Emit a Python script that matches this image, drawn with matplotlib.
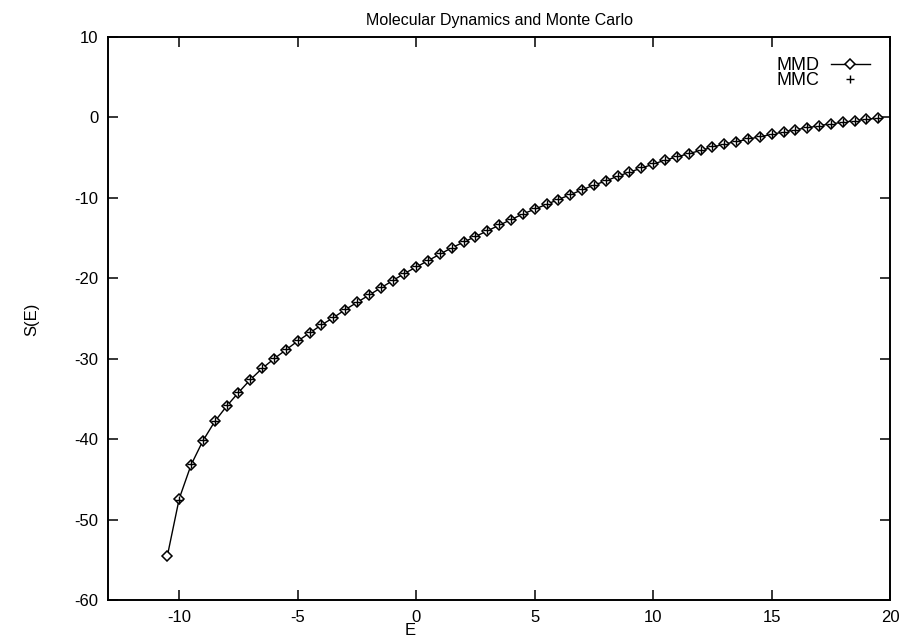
import numpy as np
import matplotlib
matplotlib.use("Agg")
import matplotlib.pyplot as plt

plt.rcParams['font.family'] = ['Liberation Sans', 'DejaVu Sans']
plt.rcParams['axes.unicode_minus'] = False

# energie E (pas de 0.5)
E_vals = [-10.5, -10.0, -9.5, -9.0, -8.5, -8.0, -7.5, -7.0, -6.5, -6.0,
          -5.5, -5.0, -4.5, -4.0, -3.5, -3.0, -2.5, -2.0, -1.5, -1.0,
          -0.5, 0.0, 0.5, 1.0, 1.5, 2.0, 2.5, 3.0, 3.5, 4.0,
          4.5, 5.0, 5.5, 6.0, 6.5, 7.0, 7.5, 8.0, 8.5, 9.0,
          9.5, 10.0, 10.5, 11.0, 11.5, 12.0, 12.5, 13.0, 13.5, 14.0,
          14.5, 15.0, 15.5, 16.0, 16.5, 17.0, 17.5, 18.0, 18.5, 19.0,
          19.5]

# S(E) molecular dynamics
S_mmd = [-54.5, -47.4, -43.2, -40.2, -37.8, -35.9, -34.2, -32.6, -31.2, -30.0,
         -28.9, -27.8, -26.8, -25.8, -24.9, -23.9, -23.0, -22.1, -21.2, -20.3,
         -19.4, -18.6, -17.8, -17.0, -16.2, -15.5, -14.8, -14.1, -13.4, -12.7,
         -12.0, -11.4, -10.8, -10.2, -9.6, -9.0, -8.4, -7.9, -7.3, -6.8,
         -6.3, -5.8, -5.3, -4.9, -4.5, -4.1, -3.7, -3.3, -3.0, -2.7,
         -2.4, -2.1, -1.8, -1.5, -1.3, -1.0, -0.8, -0.6, -0.4, -0.2,
         -0.1]

# S(E) monte carlo
E_mmc = [-10.0, -9.5, -9.0, -8.5, -8.0, -7.5, -7.0, -6.5, -6.0,
         -5.5, -5.0, -4.5, -4.0, -3.5, -3.0, -2.5, -2.0, -1.5, -1.0,
         -0.5, 0.0, 0.5, 1.0, 1.5, 2.0, 2.5, 3.0, 3.5, 4.0,
         4.5, 5.0, 5.5, 6.0, 6.5, 7.0, 7.5, 8.0, 8.5, 9.0,
         9.5, 10.0, 10.5, 11.0, 11.5, 12.0, 12.5, 13.0, 13.5, 14.0,
         14.5, 15.0, 15.5, 16.0, 16.5, 17.0, 17.5, 18.0, 18.5, 19.0,
         19.5]
S_mmc = [-47.6, -43.1, -40.1, -37.7, -35.8, -34.1, -32.5, -31.1, -29.9,
         -28.8, -27.7, -26.7, -25.7, -24.8, -23.8, -22.9, -22.0, -21.1, -20.2,
         -19.3, -18.5, -17.7, -16.9, -16.2, -15.4, -14.7, -14.0, -13.3, -12.6,
         -12.0, -11.3, -10.7, -10.1, -9.5, -8.9, -8.4, -7.8, -7.3, -6.8,
         -6.2, -5.7, -5.3, -4.8, -4.4, -4.0, -3.6, -3.3, -2.9, -2.6,
         -2.3, -2.0, -1.8, -1.5, -1.2, -1.0, -0.8, -0.6, -0.4, -0.2,
         -0.1]

fig = plt.figure(figsize=(9.01, 6.39), dpi=100)
ax = fig.add_axes([0.120, 0.061, 0.868, 0.881])

ax.plot(E_vals, S_mmd, color='black', linewidth=1.0, marker='D', markersize=5,
        markerfacecolor='white', markeredgecolor='black', markeredgewidth=1.1,
        label='MMD', zorder=3)
ax.plot(E_mmc, S_mmc, linestyle='none', color='black', marker='+',
        markersize=6, markeredgewidth=1.0, label='MMC', zorder=4)

ax.set_xlim(-13, 20)
ax.set_ylim(-60, 10)
ax.set_xticks([-10, -5, 0, 5, 10, 15, 20])
ax.set_yticks([-60, -50, -40, -30, -20, -10, 0, 10])
ax.tick_params(direction='in', top=True, right=True, length=7, width=1.1,
               labelsize=12, pad=7)
for sp in ax.spines.values():
    sp.set_linewidth(1.4)

ax.set_title('Molecular Dynamics and Monte Carlo', fontsize=11.5, pad=9)
fig.text(0.035, 0.50, 'S(E)', rotation=90, ha='center', va='center', fontsize=12)
fig.text(0.455, 0.001, 'E', ha='center', va='bottom', fontsize=12)

ax.legend(loc='upper right', frameon=False, markerfirst=False, fontsize=13,
          handlelength=2.2, handletextpad=0.6, labelspacing=-0.1,
          borderaxespad=0.7)

fig.savefig('out.png', dpi=100)
